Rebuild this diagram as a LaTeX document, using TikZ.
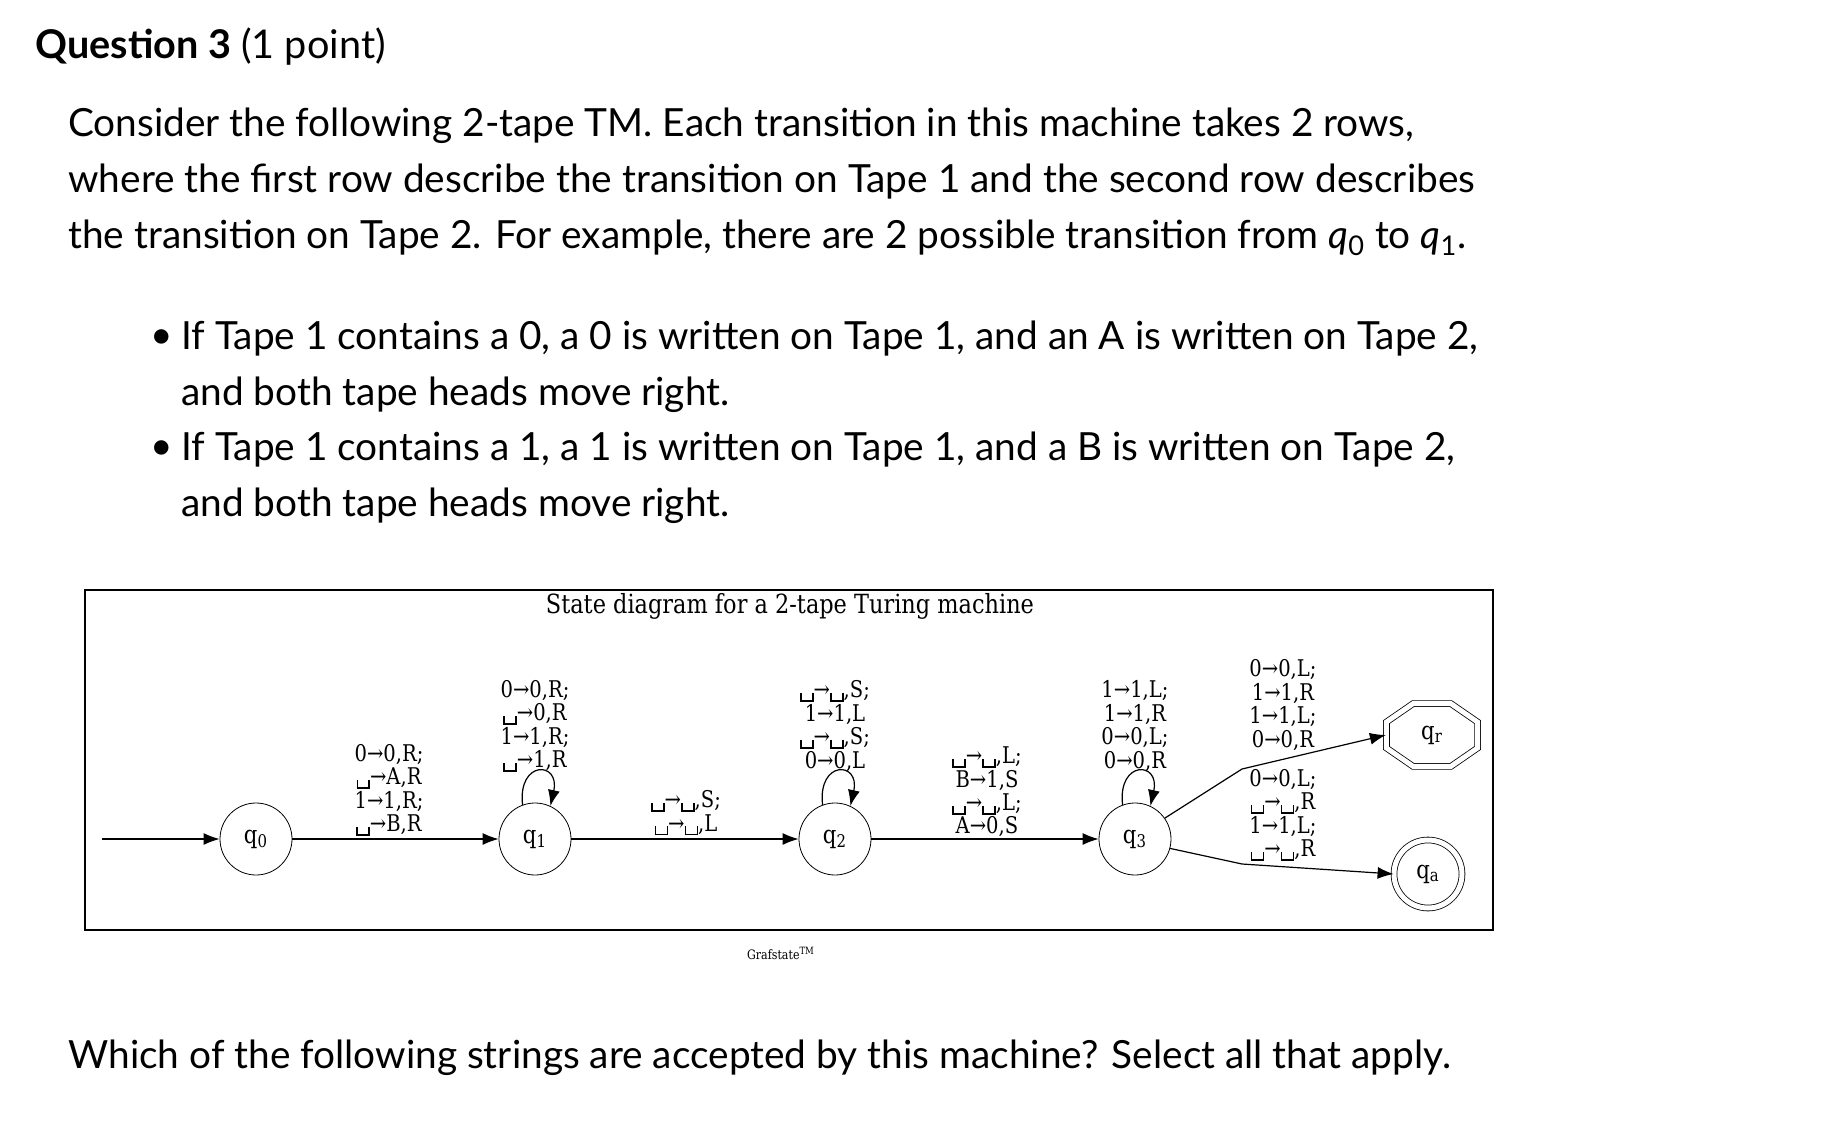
\documentclass[tikz,border=0pt]{standalone}
\usepackage{fontspec}
\setmainfont{Lato}
\newfontfamily\dg[FakeStretch=0.85]{DejaVu Serif}
\usetikzlibrary{arrows.meta,shapes.geometric}
\newcommand{\bl}{\raisebox{-0.35ex}{\rule{0.07em}{0.4em}\rule{0.45em}{0.07em}\rule{0.07em}{0.4em}}}
\newcommand{\qq}[1]{{\itshape q}\textsubscript{#1}}
\tikzset{
  txt/.style={anchor=west,inner sep=0pt,font=\fontsize{19.4}{23}\selectfont},
  st/.style={draw,circle,minimum size=36,inner sep=0pt,font=\dg\fontsize{12.5}{14}\selectfont},
  lbl/.style={align=center,inner sep=0pt,font=\dg\fontsize{11.5}{11.7}\selectfont},
  edge/.style={draw,-{Latex[length=8,width=6]},line width=0.6pt}
}
\begin{document}
\begin{tikzpicture}[x=0.5pt,y=-0.5pt]
\useasboundingbox (0,0) rectangle (1832,1124);
\node[txt,font=\fontsize{19.8}{22}\selectfont] (h) at (35,47) {{\bfseries Question 3} (1 point)};
\node[txt] (p1) at (68,126) {Consider the following 2-tape TM. Each transition in this machine takes 2 rows,};
\node[txt] (p2) at (68,182) {where the first row describe the transition on Tape 1 and the second row describes};
\node[txt] (p3) at (68,238) {the transition on Tape 2. For example, there are 2 possible transition from \qq{0} to \qq{1}.};
\node[txt] (b1) at (150,339) {\textbullet};
\node[txt] (l1) at (181,339) {If Tape 1 contains a 0, a 0 is written on Tape 1, and an A is written on Tape 2,};
\node[txt] (l2) at (181,395) {and both tape heads move right.};
\node[txt] (b2) at (150,450) {\textbullet};
\node[txt] (l3) at (181,450) {If Tape 1 contains a 1, a 1 is written on Tape 1, and a B is written on Tape 2,};
\node[txt] (l4) at (181,506) {and both tape heads move right.};
\node[txt] (fin) at (68,1058) {Which of the following strings are accepted by this machine? Select all that apply.};

\draw[line width=0.8pt] (85,590) rectangle (1493,930);
\node[font=\dg\fontsize{13.2}{14}\selectfont] (title) at (790,606) {State diagram for a 2-tape Turing machine};
\node[font=\dg\fontsize{6.5}{7}\selectfont] (gs) at (781,953) {Grafstate\textsuperscript{\tiny TM}};

\node[st] (q0) at (256,839) {q\textsubscript{0}};
\node[st] (q1) at (535,839) {q\textsubscript{1}};
\node[st] (q2) at (835,839) {q\textsubscript{2}};
\node[st] (q3) at (1135,839) {q\textsubscript{3}};
\node[draw,regular polygon,regular polygon sides=8,minimum size=34,inner sep=0pt,xscale=1.45,double,double distance=2.5pt] (qr) at (1432,735) {};
\node[font=\dg\fontsize{12.5}{14}\selectfont] (qrt) at (qr.center) {q\textsubscript{r}};
\node[st,double,double distance=2.5pt,minimum size=34] (qa) at (1428,874) {q\textsubscript{a}};

\coordinate (start) at (102,839);
\draw[edge] (start) -- (q0);
\draw[edge] (q0) -- (q1);
\draw[edge] (q1) -- (q2);
\draw[edge] (q2) -- (q3);
\draw[edge] (q1.110) .. controls +(-5,-45) and +(10,-45) .. (q1.65);
\draw[edge] (q2.110) .. controls +(-5,-45) and +(10,-45) .. (q2.65);
\draw[edge] (q3.110) .. controls +(-5,-45) and +(10,-45) .. (q3.65);
\coordinate (mr) at (1242,769);
\coordinate (ma) at (1242,864);
\draw[edge] (q3.35) -- (mr) -- (qr.west);
\draw[edge] (q3.-15) -- (ma) -- (qa.west);

\node[lbl] (e01) at (389,790) {0→0,R;\\\bl→A,R\\1→1,R;\\\bl→B,R};
\node[lbl] (e11) at (535,726) {0→0,R;\\\bl→0,R\\1→1,R;\\\bl→1,R};
\node[lbl] (e12) at (686,813) {\bl→\bl,S;\\\bl→\bl,L};
\node[lbl] (e22) at (835,726) {\bl→\bl,S;\\1→1,L\\\bl→\bl,S;\\0→0,L};
\node[lbl] (e23) at (987,792) {\bl→\bl,L;\\B→1,S\\\bl→\bl,L;\\A→0,S};
\node[lbl] (e33) at (1135,726) {1→1,L;\\1→1,R\\0→0,L;\\0→0,R};
\node[lbl] (e3r) at (1283,705) {0→0,L;\\1→1,R\\1→1,L;\\0→0,R};
\node[lbl] (e3a) at (1283,815) {0→0,L;\\\bl→\bl,R\\1→1,L;\\\bl→\bl,R};
\end{tikzpicture}
\end{document}
